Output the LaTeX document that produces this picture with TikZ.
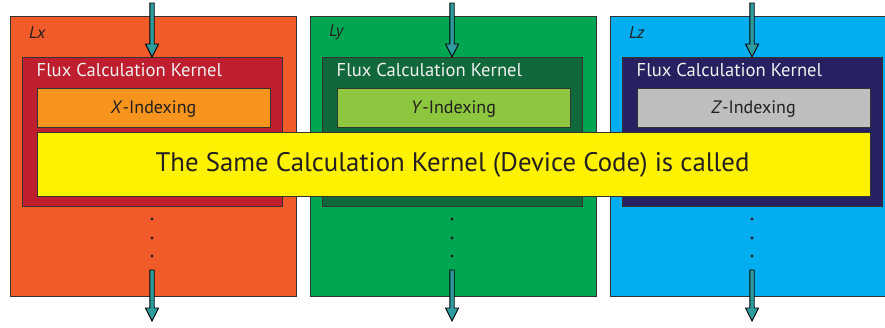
\documentclass[tikz,border=0pt]{standalone}
\usepackage{fontspec}
\setmainfont{PT Sans}
\usetikzlibrary{fit,calc}
\definecolor{outO}{HTML}{F15A29}
\definecolor{kerO}{HTML}{BE1E2D}
\definecolor{idxO}{HTML}{F7941D}
\definecolor{outG}{HTML}{00A651}
\definecolor{kerG}{HTML}{11683A}
\definecolor{idxG}{HTML}{8DC63F}
\definecolor{outB}{HTML}{00AEEF}
\definecolor{kerB}{HTML}{262262}
\definecolor{idxB}{HTML}{BCBEC0}
\definecolor{yel}{HTML}{FFF200}
\definecolor{tealarr}{HTML}{2E9C9F}
\definecolor{ink}{HTML}{231F20}
\definecolor{edge}{HTML}{333333}
\tikzset{
  box/.style={draw=edge, line width=1pt, inner sep=0pt, outer sep=0pt},
  lab/.style={font=\itshape\fontsize{17}{19}\selectfont, text=ink, anchor=west, inner sep=0pt},
  kt/.style={font=\fontsize{18.6}{20}\selectfont, text=white!94!black, anchor=west, inner sep=0pt},
  it/.style={font=\fontsize{18}{20}\selectfont, text=ink, inner sep=0pt},
  flowarr/.style={fill=tealarr, draw=black, line width=0.9pt, line join=miter},
  dotc/.style={fill=ink, circle, inner sep=0pt, minimum size=3.4pt}
}
\newcommand{\flowarrow}[2]{%
  \draw[flowarr] let \p1=(#1), \p2=(#2) in
    (\x2,\y2) -- (\x2+6.5pt,\y2+13pt) -- (\x2+2.2pt,\y2+13pt) -- (\x2+2.2pt,\y1)
    -- (\x2-2.2pt,\y1) -- (\x2-2.2pt,\y2+13pt) -- (\x2-6.5pt,\y2+13pt) -- cycle;}
\begin{document}
\begin{tikzpicture}[x=1pt,y=-1pt]
\useasboundingbox (0,0) rectangle (885,327);
\clip (0,0) rectangle (885,327);
\fill[white] (0,0) rectangle (885,327);
% panels
\foreach \k/\dx/\co/\ck/\ci/\L/\A in {x/0/outO/kerO/idxO/Lx/X, y/300/outG/kerG/idxG/Ly/Y, z/600/outB/kerB/idxB/Lz/Z}{
  \node[box, fill=\co, fit={(10+\dx,16)(296+\dx,296)}] (o\k) {};
  \node[lab] (l\k) at (29+\dx,32.5) {\L};
  \node[box, fill=\ck, fit={(22+\dx,57)(282+\dx,206)}] (k\k) {};
  \node[kt] (t\k) at (36.5+\dx,69.5) {Flux Calculation Kernel};
  \node[box, fill=\ci, fit={(37+\dx,88)(270+\dx,127)}] (i\k) {};
  \node[it] at ($(i\k.center)+(0,2)$) {\textit{\A}-Indexing};
  \coordinate (s\k) at (152+\dx,3);
  \coordinate (b\k) at (152+\dx,270);
  \coordinate (e\k) at (152+\dx,321);
  \node[dotc] (d1\k) at (152+\dx,219) {};
  \node[dotc] (d2\k) at (152+\dx,238) {};
  \node[dotc] (d3\k) at (152+\dx,256) {};
}
\flowarrow{sx}{kx.north}
\flowarrow{sy}{ky.north}
\flowarrow{sz}{kz.north}
\flowarrow{bx}{ex}
\flowarrow{by}{ey}
\flowarrow{bz}{ez}
\node[box, fill=yel, fit={(37,132)(870,196)}] (yb) {};
\node[font=\fontsize{26.8}{30}\selectfont, text=ink, inner sep=0pt] at ($(yb.center)+(-1,1)$) {The Same Calculation Kernel (Device Code) is called};
\end{tikzpicture}
\end{document}
